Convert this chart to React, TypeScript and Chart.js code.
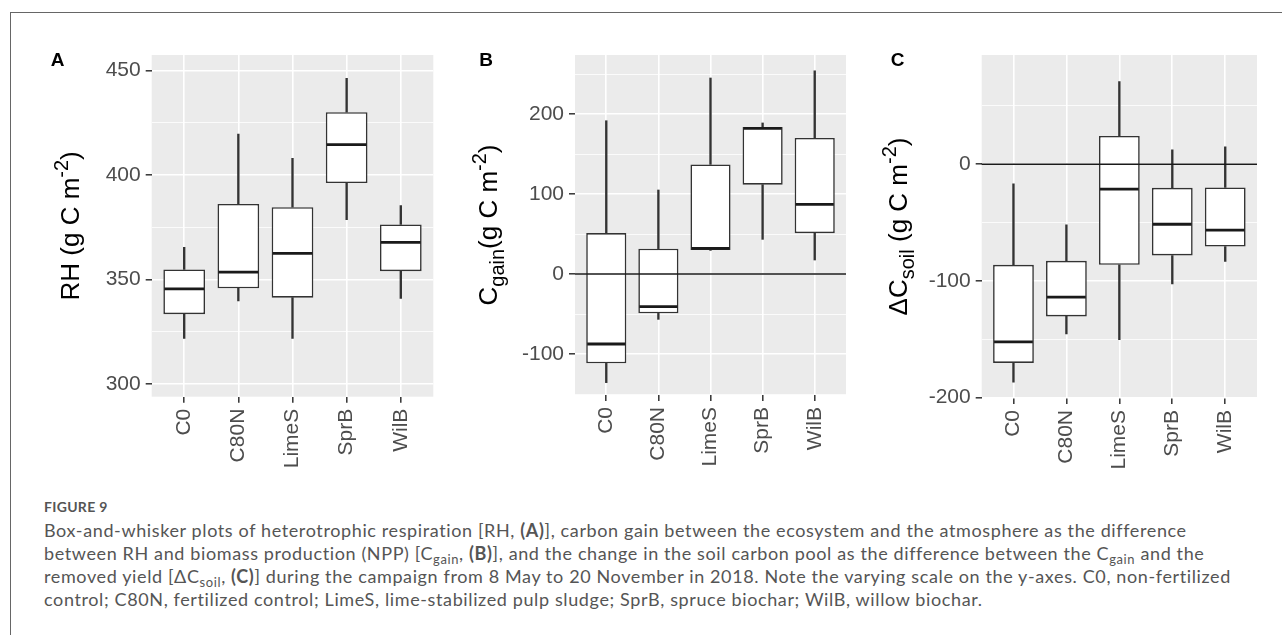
import React, { useEffect, useRef } from 'react';
import { Chart, registerables } from 'chart.js';

Chart.register(...registerables);

// ---------- data ----------
const categories = ['C0', 'C80N', 'LimeS', 'SprB', 'WilB'];

// Panel A: heterotrophic respiration RH
const rhMin = [321.8, 339.8, 321.8, 378.6, 341.0];
const rhQ1 = [333.4, 345.8, 341.3, 396.2, 354.0];
const rhMed = [345.5, 353.5, 362.5, 414.6, 367.8];
const rhQ3 = [354.8, 386.2, 384.6, 430.1, 376.4];
const rhMax = [365.4, 419.6, 408.0, 446.3, 385.4];
const rhMajorTicks = [300, 350, 400, 450];
const rhMinorTicks = [325, 375, 425];

// Panel B: carbon gain
const gainMin = [-135.8, -56.7, 29.5, 43.3, 17.5];
const gainQ1 = [-111.7, -49.2, 30.0, 111.7, 51.0];
const gainMed = [-87.5, -40.8, 32.0, 182.0, 87.0];
const gainQ3 = [51.2, 31.7, 137.0, 183.8, 170.0];
const gainMax = [191.6, 105.0, 245.0, 188.8, 254.0];
const gainMajorTicks = [-100, 0, 100, 200];
const gainMinorTicks = [-150, -50, 50, 150, 250];

// Panel C: change in soil carbon
const soilMin = [-187.1, -145.7, -150.6, -102.8, -83.5];
const soilQ1 = [-170.5, -130.6, -86.3, -78.3, -70.6];
const soilMed = [-152.5, -114.0, -21.4, -51.5, -56.6];
const soilQ3 = [-86.3, -82.9, 24.3, -20.3, -20.0];
const soilMax = [-16.9, -52.0, 70.8, 12.3, 15.0];
const soilMajorTicks = [-200, -100, 0];
const soilMinorTicks = [-150, -50, 50];

// axis titles (parts: normal / subscript / superscript)
type Part = { t: string; sub?: boolean; sup?: boolean };
const rhTitle: Part[] = [{ t: 'RH (g C m' }, { t: '-2', sup: true }, { t: ')' }];
const gainTitle: Part[] = [{ t: 'C' }, { t: 'gain', sub: true }, { t: '(g C m' }, { t: '-2', sup: true }, { t: ')' }];
const soilTitle: Part[] = [{ t: '\u0394C' }, { t: 'soil', sub: true }, { t: ' (g C m' }, { t: '-2', sup: true }, { t: ')' }];

// ---------- layout / style ----------
const FONT = '"Liberation Sans", Arial, Helvetica, sans-serif';
const CANVAS_H = 490;
const TICK_SIZE = 21;
const TITLE_SIZE = 26;

interface PanelSpec {
  letter: string;
  title: Part[];
  min: number[];
  q1: number[];
  med: number[];
  q3: number[];
  max: number[];
  major: number[];
  minor: number[];
  yMin: number;
  yMax: number;
  hline: boolean;
  left: number;
  width: number;
  yAxisWidth: number;
  padRight: number;
  plotBottom: number;
  letterX: number;
  titleX: number;
}

const panels: PanelSpec[] = [
  {
    letter: 'A', title: rhTitle, min: rhMin, q1: rhQ1, med: rhMed, q3: rhQ3, max: rhMax,
    major: rhMajorTicks, minor: rhMinorTicks, yMin: 293.9, yMax: 457.5, hline: false,
    left: 0, width: 440, yAxisWidth: 151.7, padRight: 6.7, plotBottom: 396.7, letterX: 57.5, titleX: 70,
  },
  {
    letter: 'B', title: gainTitle, min: gainMin, q1: gainQ1, med: gainMed, q3: gainQ3, max: gainMax,
    major: gainMajorTicks, minor: gainMinorTicks, yMin: -151.25, yMax: 273.75, hline: true,
    left: 440, width: 410, yAxisWidth: 135, padRight: 4, plotBottom: 395, letterX: 46, titleX: 48,
  },
  {
    letter: 'C', title: soilTitle, min: soilMin, q1: soilQ1, med: soilMed, q3: soilQ3, max: soilMax,
    major: soilMajorTicks, minor: soilMinorTicks, yMin: -200.6, yMax: 93.7, hline: true,
    left: 850, width: 432, yAxisWidth: 131.7, padRight: 25, plotBottom: 398, letterX: 47.5, titleX: 48,
  },
];

function buildChart(canvas: HTMLCanvasElement, p: PanelSpec) {
  const allTicks = [...p.major, ...p.minor].sort((a, b) => a - b);
  const isMajor = (v: number) => p.major.includes(v);

  const decor = {
    id: 'decor' + p.letter,
    beforeDraw(chart: any) {
      const { ctx, chartArea: a } = chart;
      ctx.save();
      ctx.fillStyle = '#EBEBEB';
      ctx.fillRect(a.left, a.top, a.right - a.left, a.bottom - a.top);
      ctx.restore();
    },
    afterDatasetsDraw(chart: any) {
      const { ctx, chartArea: a, scales } = chart;
      const meta = chart.getDatasetMeta(0);
      ctx.save();
      ctx.strokeStyle = '#1A1A1A';
      ctx.lineCap = 'butt';
      ctx.lineWidth = 2.8;
      p.med.forEach((m, i) => {
        const el: any = meta.data[i];
        const y = scales.y.getPixelForValue(m);
        ctx.beginPath();
        ctx.moveTo(el.x - el.width / 2 + 1, y);
        ctx.lineTo(el.x + el.width / 2 - 1, y);
        ctx.stroke();
      });
      if (p.hline) {
        const y0 = scales.y.getPixelForValue(0);
        ctx.lineWidth = 1.6;
        ctx.beginPath();
        ctx.moveTo(a.left, y0);
        ctx.lineTo(a.right, y0);
        ctx.stroke();
      }
      ctx.restore();
    },
    afterDraw(chart: any) {
      const { ctx, chartArea: a } = chart;
      ctx.save();
      // panel letter
      ctx.fillStyle = '#000000';
      ctx.font = `bold 19px ${FONT}`;
      ctx.textAlign = 'center';
      ctx.textBaseline = 'middle';
      ctx.fillText(p.letter, p.letterX, 61);
      // rotated y title with sub/superscripts
      const cy = (a.top + a.bottom) / 2;
      ctx.translate(p.titleX, cy);
      ctx.rotate(-Math.PI / 2);
      ctx.textAlign = 'left';
      ctx.textBaseline = 'alphabetic';
      const fontFor = (part: Part) =>
        `${part.sub || part.sup ? Math.round(TITLE_SIZE * 0.75) : TITLE_SIZE}px ${FONT}`;
      let total = 0;
      p.title.forEach((part) => {
        ctx.font = fontFor(part);
        total += ctx.measureText(part.t).width;
      });
      let x = -total / 2;
      const base = TITLE_SIZE * 0.36;
      p.title.forEach((part) => {
        ctx.font = fontFor(part);
        const dy = part.sub ? TITLE_SIZE * 0.25 : part.sup ? -TITLE_SIZE * 0.45 : 0;
        ctx.fillText(part.t, x, base + dy);
        x += ctx.measureText(part.t).width;
      });
      ctx.restore();
    },
  };

  return new Chart(canvas, {
    type: 'bar',
    data: {
      datasets: [
        {
          label: 'box',
          data: categories.map((_, i) => ({ x: i, y: [p.q1[i], p.q3[i]] })) as any,
          backgroundColor: '#FFFFFF',
          borderColor: '#333333',
          borderWidth: 1.6,
          borderSkipped: false,
          grouped: false,
          barPercentage: 0.77,
          categoryPercentage: 1,
          order: 1,
        },
        {
          label: 'upper whisker',
          data: categories.map((_, i) => ({ x: i, y: [p.q3[i], p.max[i]] })) as any,
          backgroundColor: '#333333',
          borderWidth: 0,
          barThickness: 1.7,
          grouped: false,
          order: 2,
        },
        {
          label: 'lower whisker',
          data: categories.map((_, i) => ({ x: i, y: [p.min[i], p.q1[i]] })) as any,
          backgroundColor: '#333333',
          borderWidth: 0,
          barThickness: 1.7,
          grouped: false,
          order: 2,
        },
      ],
    },
    options: {
      responsive: false,
      animation: false,
      events: [],
      layout: { padding: { top: 55, right: p.padRight, left: 0, bottom: 0 } },
      plugins: { legend: { display: false }, tooltip: { enabled: false } },
      scales: {
        x: {
          type: 'linear',
          min: -0.6,
          max: 4.6,
          offset: false,
          afterBuildTicks: (s: any) => {
            s.ticks = categories.map((_, i) => ({ value: i }));
          },
          afterFit: (s: any) => {
            s.height = CANVAS_H - p.plotBottom;
          },
          grid: {
            offset: false,
            color: '#FFFFFF',
            lineWidth: 1.6,
            drawTicks: true,
            tickLength: 6,
            tickColor: '#333333',
            tickWidth: 1.5,
          },
          border: { display: false },
          ticks: {
            autoSkip: false,
            minRotation: 90,
            maxRotation: 90,
            padding: 6,
            color: '#4D4D4D',
            font: { family: FONT, size: TICK_SIZE },
            callback: (v: any) => categories[Math.round(Number(v))] ?? '',
          },
        },
        y: {
          type: 'linear',
          min: p.yMin,
          max: p.yMax,
          afterBuildTicks: (s: any) => {
            s.ticks = allTicks.map((v) => ({ value: v }));
          },
          afterFit: (s: any) => {
            s.width = p.yAxisWidth;
          },
          grid: {
            color: '#FFFFFF',
            lineWidth: (c: any) => (c.tick && isMajor(c.tick.value) ? 1.6 : 0.8),
            drawTicks: true,
            tickLength: 6,
            tickColor: (c: any) => (c.tick && isMajor(c.tick.value) ? '#333333' : 'rgba(0,0,0,0)'),
            tickWidth: 1.5,
          },
          border: { display: false },
          ticks: {
            padding: 5,
            color: '#4D4D4D',
            font: { family: FONT, size: TICK_SIZE },
            callback: (v: any) => (isMajor(Number(v)) ? String(v) : ''),
          },
        },
      },
    } as any,
    plugins: [decor],
  });
}

const subStyle: React.CSSProperties = { fontSize: '0.72em', lineHeight: 0, verticalAlign: '-0.3em' };

export default function App() {
  const refA = useRef<HTMLCanvasElement>(null);
  const refB = useRef<HTMLCanvasElement>(null);
  const refC = useRef<HTMLCanvasElement>(null);
  const refs = [refA, refB, refC];

  useEffect(() => {
    const charts = panels.map((p, i) => buildChart(refs[i].current as HTMLCanvasElement, p));
    return () => charts.forEach((c) => c.destroy());
  }, []);

  const lineStyle: React.CSSProperties = { whiteSpace: 'nowrap', height: 23 };

  return (
    <div
      style={{
        position: 'absolute',
        left: 0,
        top: 0,
        width: 1282,
        height: 635,
        overflow: 'hidden',
        background: '#FFFFFF',
      }}
    >
      <div
        style={{
          position: 'absolute',
          left: 10,
          top: 12,
          width: 1400,
          height: 800,
          borderLeft: '1px solid #666666',
          borderTop: '1px solid #666666',
        }}
      />
      {panels.map((p, i) => (
        <canvas
          key={p.letter}
          ref={refs[i]}
          width={p.width}
          height={CANVAS_H}
          style={{ position: 'absolute', left: p.left, top: 0, width: p.width, height: CANVAS_H }}
        />
      ))}
      <div
        style={{
          position: 'absolute',
          left: 44,
          top: 497,
          fontFamily: 'Lato, "Open Sans", sans-serif',
          fontSize: 14,
          fontWeight: 700,
          color: '#555555',
          lineHeight: '20px',
          letterSpacing: 0.3,
        }}
      >
        FIGURE 9
      </div>
      <div
        style={{
          position: 'absolute',
          left: 44,
          top: 519,
          fontFamily: 'Lato, "Open Sans", sans-serif',
          fontSize: 18,
          letterSpacing: 0.62,
          color: '#555555',
          lineHeight: '23px',
        }}
      >
        <div style={lineStyle}>
          Box-and-whisker plots of heterotrophic respiration [RH, <b>(A)</b>], carbon gain between the ecosystem and the atmosphere as the difference
        </div>
        <div style={lineStyle}>
          between RH and biomass production (NPP) [C<span style={subStyle}>gain</span>, <b>(B)</b>], and the change in the soil carbon pool as the difference between the C<span style={subStyle}>gain</span> and the
        </div>
        <div style={lineStyle}>
          removed yield [ΔC<span style={subStyle}>soil</span>, <b>(C)</b>] during the campaign from 8 May to 20 November in 2018. Note the varying scale on the y-axes. C0, non-fertilized
        </div>
        <div style={lineStyle}>
          control; C80N, fertilized control; LimeS, lime-stabilized pulp sludge; SprB, spruce biochar; WilB, willow biochar.
        </div>
      </div>
    </div>
  );
}
